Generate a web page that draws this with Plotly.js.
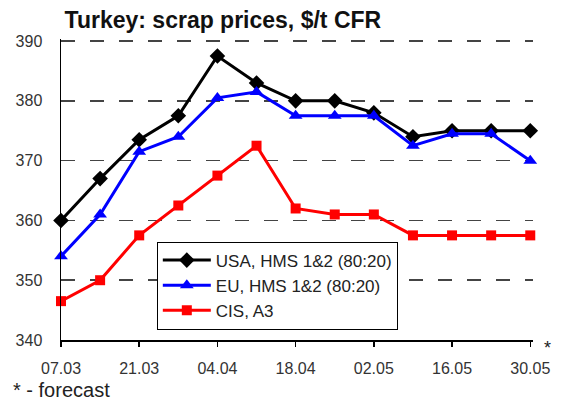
<!DOCTYPE html>
<html>
<head>
<meta charset="utf-8">
<script src="https://cdn.plot.ly/plotly-3.0.1.min.js"></script>
<style>html,body{margin:0;padding:0;background:#fff;}#chart{width:570px;height:403px;}</style>
</head>
<body>
<div id="chart"></div>
<script>
const dates = ["07.03","14.03","21.03","28.03","04.04","11.04","18.04","25.04","02.05","09.05","16.05","23.05","30.05"];
const tickLabels = ["07.03","21.03","04.04","18.04","02.05","16.05","30.05"];
const usa = [360, 367, 373.5, 377.5, 387.5, 383, 380, 380, 378, 374, 375, 375, 375];
const eu  = [354, 361, 371.5, 374, 380.5, 381.5, 377.5, 377.5, 377.5, 372.5, 374.5, 374.5, 370];
const cis = [346.5, 350, 357.5, 362.5, 367.5, 372.5, 362, 361, 361, 357.5, 357.5, 357.5, 357.5];
const names = ["USA, HMS 1&2 (80:20)", "EU, HMS 1&2 (80:20)", "CIS, A3"];

const xIdx = dates.map((d, i) => i);
const tickIdx = tickLabels.map(t => dates.indexOf(t));

function tr(y, name, color, symbol, size, grp) {
  return {
    x: xIdx, y: y, name: name, type: 'scatter', mode: 'lines+markers',
    line: {color: color, width: 3},
    marker: {color: color, symbol: symbol, size: size},
    cliponaxis: false, legendgroup: grp
  };
}

const data = [
  tr(usa, names[0], '#000000', 'diamond', 12, 'a'),
  tr(eu, names[1], '#0000ff', 'triangle-up', 12, 'b'),
  tr(cis, names[2], '#ff0000', 'square', 10, 'c')
];

const layout = {
  width: 570, height: 403,
  margin: {l: 61, r: 37, t: 39, b: 63},
  paper_bgcolor: '#ffffff', plot_bgcolor: '#ffffff',
  font: {family: 'Liberation Sans, Arial, sans-serif', size: 16, color: '#333333'},
  title: {
    text: '<b>Turkey: scrap prices, $/t CFR</b>',
    font: {size: 23, color: '#111111', family: 'Liberation Sans, Arial, sans-serif'},
    xref: 'container', yref: 'container', x: 0.391, y: 0.95, xanchor: 'center', yanchor: 'middle'
  },
  xaxis: {
    range: [0, 12.07], tickmode: 'array', tickvals: tickIdx, ticktext: tickLabels,
    showline: true, linecolor: '#000000', linewidth: 1.5,
    ticks: 'outside', ticklen: 5, tickcolor: '#000000', tickwidth: 1.5,
    showgrid: false, zeroline: false, tickfont: {size: 16, color: '#333333'},
    ticklabelstandoff: 8
  },
  yaxis: {
    range: [340, 390.35], tickmode: 'array', tickvals: [340, 350, 360, 370, 380, 390],
    showline: true, linecolor: '#000000', linewidth: 1.5,
    ticks: '', showgrid: true, gridcolor: '#444444', gridwidth: 1.5, griddash: '14px,15px',
    zeroline: false, tickfont: {size: 16, color: '#333333'}, ticklabelstandoff: 14
  },
  showlegend: true,
  legend: {
    x: 0.203, y: 0.327, xanchor: 'left', yanchor: 'top',
    bgcolor: '#ffffff', bordercolor: '#000000', borderwidth: 1,
    font: {size: 17, color: '#222222'}, tracegroupgap: 3, traceorder: 'normal',
    itemwidth: 48
  },
  annotations: [
    {text: '*', xref: 'paper', yref: 'paper', x: 486/472, y: 0, showarrow: false,
     font: {size: 18, color: '#222222'}, xanchor: 'center', yanchor: 'middle', yshift: -8},
    {text: '* - forecast', xref: 'paper', yref: 'paper', x: 0, y: 0, showarrow: false,
     xshift: -50, yshift: -50, xanchor: 'left', yanchor: 'middle', font: {size: 20, color: '#222222'}}
  ]
};

Plotly.newPlot('chart', data, layout, {displayModeBar: false, staticPlot: true});
</script>
</body>
</html>
